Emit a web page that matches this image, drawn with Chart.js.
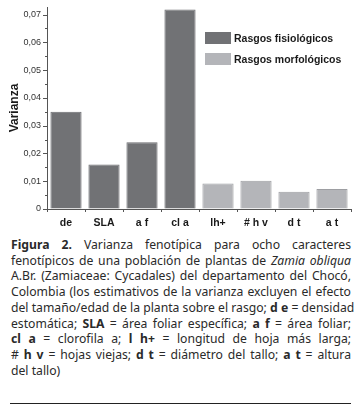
<!DOCTYPE html>
<html>
<head>
<meta charset="utf-8">
<script src="https://cdn.jsdelivr.net/npm/chart.js@4.4.0/dist/chart.umd.min.js"></script>
<style>
    body { margin: 0; background: #fff; width: 360px; height: 407px; overflow: hidden; position: relative; }
    #chart-box { position: absolute; left: 0; top: 0; width: 360px; height: 232px; }
    #legend { position: absolute; left: 205px; top: 32px; font: bold 10.5px "Liberation Sans", Arial, sans-serif; color: #1a1a1a; }
    .leg-row { display: flex; align-items: center; height: 12px; margin-bottom: 9px; }
    .leg-sw { width: 26px; height: 12px; margin-right: 3px; }
    #caption { position: absolute; left: 11px; top: 237px; width: 340px; font: 12.2px "Noto Sans", "Open Sans", sans-serif; line-height: 15.7px; color: #2a2a2a; }
    #caption .ln { text-align: justify; text-align-last: justify; white-space: nowrap; }
    #caption .ln.last { text-align-last: left; }
    #caption b { font-weight: 700; }
    #rule { position: absolute; left: 10px; top: 403px; width: 341px; height: 1px; background: #222; }
</style>
</head>
<body>
<div id="chart-box"><canvas id="varChart" width="360" height="232"></canvas></div>
<div id="legend"></div>
<div id="caption">
    <div class="ln"><b>Figura 2.</b> Varianza fenotípica para ocho caracteres</div>
    <div class="ln">fenotípicos de una población de plantas de <i>Zamia obliqua</i></div>
    <div class="ln">A.Br. (Zamiaceae: Cycadales) del departamento del Chocó,</div>
    <div class="ln">Colombia (los estimativos de la varianza excluyen el efecto</div>
    <div class="ln">del tamaño/edad de la planta sobre el rasgo; <b>d e</b> = densidad</div>
    <div class="ln">estomática; <b>SLA</b> = área foliar específica; <b>a f</b> = área foliar;</div>
    <div class="ln"><b>cl a</b> = clorofila a; <b>l h+</b> = longitud de hoja más larga;</div>
    <div class="ln"># <b>h v</b> = hojas viejas; <b>d t</b> = diámetro del tallo; <b>a t</b> = altura</div>
    <div class="ln last">del tallo)</div>
</div>
<div id="rule"></div>
<script>
const categories = ['de', 'SLA', 'a f', 'cl a', 'lh+', '# h v', 'd t', 'a t'];
const fisiologicos = [0.035, 0.016, 0.024, 0.0718, null, null, null, null];
const morfologicos = [null, null, null, null, 0.0092, 0.0102, 0.0062, 0.0072];
const seriesNames = ['Rasgos fisiológicos', 'Rasgos morfológicos'];
const seriesColors = ['#717275', '#b4b5b9'];
const seriesBorders = ['#6c6d70', '#9d9ea2'];
// labelled ticks and the short ones in between
const yTicksMajor = [0, 0.01, 0.02, 0.03, 0.04, 0.05, 0.06, 0.07];
const yTickLabels = ['0', '0,01', '0,02', '0,03', '0,04', '0,05', '0,06', '0,07'];
const yTicksMinor = [0.005, 0.015, 0.025, 0.035, 0.045, 0.055, 0.065];

const axisColor = '#555';

// y tick marks (long on labelled values) and the tick labels
const yTickMarks = {
    id: 'yTickMarks',
    afterDraw(chart) {
        const y = chart.scales.y;
        const ctx = chart.ctx;
        const x0 = chart.chartArea.left;
        ctx.save();
        ctx.strokeStyle = axisColor;
        ctx.lineWidth = 1;
        y.ticks.forEach(t => {
            const major = yTicksMajor.includes(t.value);
            const py = Math.round(y.getPixelForValue(t.value)) + 0.5;
            ctx.beginPath();
            ctx.moveTo(x0 - (major ? 4 : 2), py);
            ctx.lineTo(x0, py);
            ctx.stroke();
        });
        ctx.fillStyle = '#333';
        ctx.font = '9px "Liberation Sans", Arial, sans-serif';
        ctx.textAlign = 'right';
        ctx.textBaseline = 'middle';
        yTicksMajor.forEach((v, i) => {
            ctx.fillText(yTickLabels[i], x0 - 6, y.getPixelForValue(v));
        });
        ctx.restore();
    }
};

new Chart(document.getElementById('varChart'), {
    type: 'bar',
    data: {
        labels: categories,
        datasets: [
            { label: seriesNames[0], data: fisiologicos, backgroundColor: seriesColors[0], borderColor: seriesBorders[0], borderWidth: 1 },
            { label: seriesNames[1], data: morfologicos, backgroundColor: seriesColors[1], borderColor: seriesBorders[1], borderWidth: 1 }
        ]
    },
    options: {
        responsive: false,
        devicePixelRatio: 1,
        animation: false,
        layout: { padding: { top: 7, right: 9, left: 0, bottom: 0 } },
        datasets: { bar: { grouped: false, barPercentage: 0.82, categoryPercentage: 1 } },
        plugins: { legend: { display: false }, tooltip: { enabled: false } },
        scales: {
            x: {
                grid: { drawOnChartArea: false, tickLength: 3, color: axisColor },
                border: { color: axisColor },
                ticks: { color: '#1a1a1a', padding: 5, font: { family: 'Liberation Sans', size: 10.5, weight: 'bold' } },
                afterFit: s => { s.height = 23; }
            },
            y: {
                min: 0,
                max: 0.0727,
                grid: { display: true, drawOnChartArea: false, drawTicks: false },
                border: { color: axisColor },
                afterBuildTicks: s => {
                    s.ticks = yTicksMajor.concat(yTicksMinor).sort((a, b) => a - b).map(v => ({ value: v }));
                },
                ticks: { display: false },
                title: {
                    display: true,
                    text: 'Varianza',
                    color: '#1a1a1a',
                    padding: { top: 7, bottom: 0 },
                    font: { family: 'Liberation Sans', size: 12, weight: 'bold' }
                },
                afterFit: s => { s.width = 47; }
            }
        }
    },
    plugins: [yTickMarks]
});

const legend = document.getElementById('legend');
seriesNames.forEach((name, i) => {
    legend.innerHTML += `<div class="leg-row"><div class="leg-sw" style="background:${seriesColors[i]}"></div>${name}</div>`;
});
</script>
</body>
</html>
